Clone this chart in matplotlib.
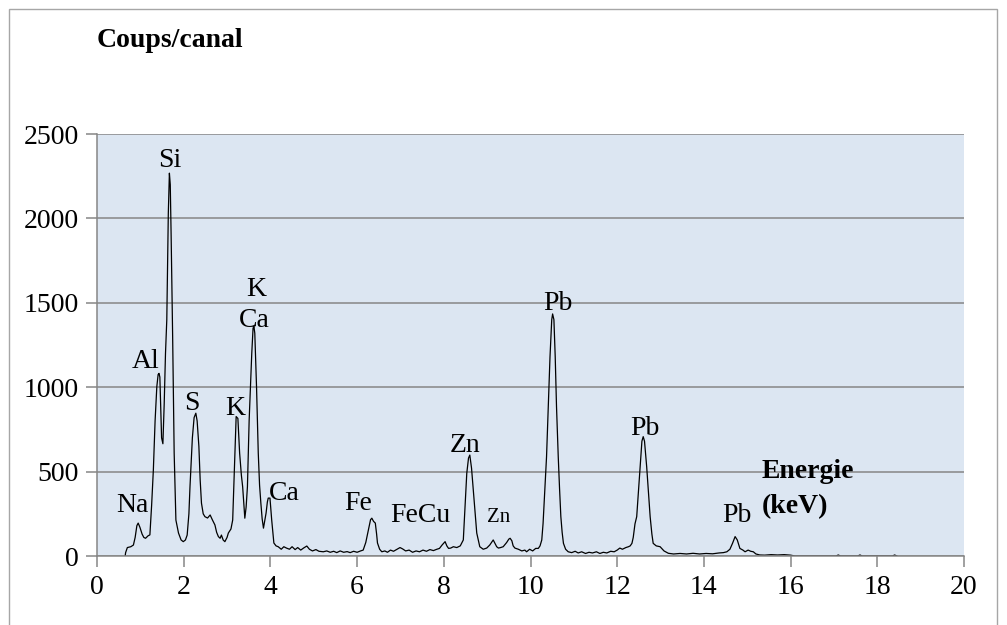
import matplotlib
matplotlib.use("Agg")
import matplotlib.pyplot as plt
from matplotlib.patches import Rectangle

# spectrum (energy in keV, counts per channel)
energy = [
    0.65, 0.66, 0.70, 0.78, 0.84, 0.88, 0.92, 0.95, 0.99, 1.04, 1.08, 1.12, 1.18, 1.22,
    1.26, 1.30, 1.34, 1.38, 1.41, 1.43, 1.45, 1.47, 1.49, 1.52, 1.55, 1.58, 1.61, 1.645,
    1.67, 1.69, 1.71, 1.745, 1.78, 1.82, 1.88, 1.94, 1.99, 2.04, 2.08, 2.12, 2.145, 2.20,
    2.24, 2.28, 2.31, 2.35, 2.38, 2.41, 2.45, 2.49, 2.55, 2.61, 2.66, 2.72, 2.76, 2.80,
    2.84, 2.87, 2.91, 2.95, 3.00, 3.03, 3.09, 3.13, 3.16, 3.18, 3.21, 3.25, 3.29, 3.33,
    3.36, 3.39, 3.41, 3.44, 3.47, 3.51, 3.54, 3.57, 3.60, 3.62, 3.64, 3.68, 3.72, 3.75,
    3.78, 3.81, 3.84, 3.87, 3.90, 3.93, 3.95, 3.99, 4.03, 4.08, 4.13, 4.18, 4.25, 4.31,
    4.37, 4.44, 4.50, 4.57, 4.63, 4.70, 4.77, 4.84, 4.90, 4.97, 5.05, 5.12, 5.22, 5.30,
    5.38, 5.46, 5.53, 5.61, 5.69, 5.77, 5.84, 5.92, 6.00, 6.08, 6.14, 6.20, 6.26, 6.31,
    6.34, 6.38, 6.42, 6.45, 6.47, 6.52, 6.57, 6.64, 6.70, 6.77, 6.84, 6.92, 6.99, 7.05,
    7.12, 7.20, 7.28, 7.36, 7.44, 7.52, 7.60, 7.68, 7.76, 7.84, 7.90, 7.96, 8.03, 8.07,
    8.11, 8.16, 8.22, 8.30, 8.38, 8.45, 8.49, 8.53, 8.57, 8.60, 8.64, 8.68, 8.72, 8.76,
    8.83, 8.91, 8.99, 9.06, 9.10, 9.14, 9.18, 9.22, 9.26, 9.31, 9.37, 9.45, 9.50, 9.53,
    9.57, 9.60, 9.64, 9.72, 9.80, 9.87, 9.91, 9.98, 10.05, 10.12, 10.18, 10.22, 10.26, 10.29,
    10.33, 10.37, 10.41, 10.45, 10.49, 10.51, 10.54, 10.57, 10.60, 10.64, 10.67, 10.70, 10.73, 10.76,
    10.81, 10.87, 10.95, 11.03, 11.10, 11.18, 11.27, 11.35, 11.43, 11.52, 11.60, 11.68, 11.76, 11.85,
    11.93, 12.00, 12.06, 12.12, 12.20, 12.26, 12.30, 12.34, 12.37, 12.41, 12.45, 12.49, 12.53, 12.57,
    12.60, 12.63, 12.68, 12.72, 12.76, 12.80, 12.83, 12.90, 12.99, 13.08, 13.18, 13.30, 13.45, 13.60,
    13.75, 13.90, 14.05, 14.20, 14.35, 14.45, 14.53, 14.60, 14.66, 14.72, 14.77, 14.83, 14.90, 14.95,
    15.02, 15.08, 15.14, 15.20, 15.29, 15.40, 15.55, 15.70, 15.85, 16.00, 16.10, 17.05, 17.10, 17.15,
    17.55, 17.60, 17.65, 18.35, 18.40, 18.45,
]
counts = [
    0, 20, 50, 55, 65, 110, 180, 195, 170, 130, 110, 105, 120, 125,
    300, 510, 800, 1003, 1075, 1082, 1060, 880, 700, 665, 900, 1200, 1400, 2030,
    2268, 2200, 1900, 1300, 610, 213, 136, 95, 85, 95, 124, 250, 410, 700,
    820, 846, 800, 650, 450, 313, 250, 233, 225, 243, 215, 184, 140, 115,
    105, 124, 95, 85, 110, 136, 160, 213, 450, 610, 826, 815, 610, 480,
    410, 300, 224, 290, 410, 805, 1000, 1200, 1350, 1360, 1320, 1003, 610, 420,
    313, 220, 165, 210, 254, 320, 343, 343, 213, 77, 60, 55, 40, 55,
    47, 40, 55, 38, 50, 35, 48, 59, 40, 30, 38, 28, 25, 30,
    22, 28, 20, 30, 22, 26, 20, 28, 22, 30, 35, 80, 154, 215,
    224, 205, 195, 130, 77, 40, 25, 30, 22, 35, 28, 40, 50, 42,
    30, 35, 22, 30, 25, 35, 28, 38, 32, 40, 45, 65, 85, 60,
    45, 47, 55, 50, 60, 95, 292, 490, 580, 598, 520, 391, 260, 136,
    55, 40, 47, 65, 80, 95, 75, 55, 47, 50, 55, 80, 100, 105,
    90, 60, 47, 40, 30, 35, 25, 40, 30, 45, 45, 60, 95, 193,
    391, 588, 885, 1181, 1400, 1434, 1400, 1181, 885, 588, 400, 233, 140, 75,
    40, 25, 20, 28, 18, 25, 15, 22, 18, 25, 15, 22, 18, 28,
    25, 35, 47, 40, 50, 55, 60, 75, 110, 190, 233, 380, 529, 680,
    707, 680, 529, 380, 233, 130, 75, 60, 55, 30, 16, 12, 15, 12,
    16, 12, 15, 13, 18, 20, 25, 40, 75, 115, 95, 45, 35, 25,
    35, 28, 25, 12, 6, 5, 8, 6, 8, 5, 0, 0, 6, 0,
    0, 6, 0, 0, 6, 0,
]

# peak labels: text, energy, baseline count, font size
peak_labels = [
    ("Na", 0.81, 262, 20), ("Al", 1.11, 1112, 20), ("Si", 1.68, 2306, 20),
    ("S", 2.18, 865, 20), ("K", 3.18, 835, 20), ("K", 3.67, 1540, 20),
    ("Ca", 3.64, 1357, 20), ("Ca", 4.33, 332, 20), ("Fe", 6.02, 272, 20),
    ("FeCu", 7.47, 203, 20), ("Zn", 8.49, 618, 20), ("Zn", 9.26, 203, 15),
    ("Pb", 10.63, 1457, 20), ("Pb", 12.65, 717, 20), ("Pb", 14.76, 203, 20),
]

x_ticks = list(range(0, 21, 2))
y_ticks = [0, 500, 1000, 1500, 2000, 2500]

plt.rcParams["font.family"] = ["Liberation Serif", "DejaVu Serif"]
grey = "#868686"

fig = plt.figure(figsize=(10.07, 6.25), dpi=100)
# thin frame around the whole chart
fig.patches.append(Rectangle((9 / 1007, -0.05), 988 / 1007, 1.05 - 9 / 625,
                             transform=fig.transFigure, fill=False,
                             edgecolor="#a6a6a6", linewidth=1.0))

ax = fig.add_axes([97 / 1007, 1 - 556 / 625, 867 / 1007, 422 / 625])
ax.set_facecolor("#dce6f2")
ax.plot(energy, counts, color="black", linewidth=0.9)

ax.set_xlim(0, 20)
ax.set_ylim(0, 2500)
ax.set_xticks(x_ticks)
ax.set_yticks(y_ticks)
ax.yaxis.grid(True, color=grey, linewidth=1.1)
ax.set_axisbelow(True)
for side in ["top", "right"]:
    ax.spines[side].set_visible(False)
for side in ["left", "bottom"]:
    ax.spines[side].set_color(grey)
    ax.spines[side].set_linewidth(1.1)
ax.tick_params(direction="out", length=8, width=1.1, color=grey,
               labelsize=20, labelcolor="black")
ax.tick_params(axis="x", pad=6)
ax.tick_params(axis="y", pad=5)

for txt, e, c, size in peak_labels:
    ax.text(e, c, txt, ha="center", va="baseline", fontsize=size)

ax.text(15.33, 462, "Energie", ha="left", va="baseline", fontsize=20, fontweight="bold")
ax.text(15.33, 255, "(keV)", ha="left", va="baseline", fontsize=20, fontweight="bold")
fig.text(97 / 1007, 1 - 47 / 625, "Coups/canal", ha="left", va="baseline",
         fontsize=20, fontweight="bold")

fig.savefig("out.png", dpi=100)
